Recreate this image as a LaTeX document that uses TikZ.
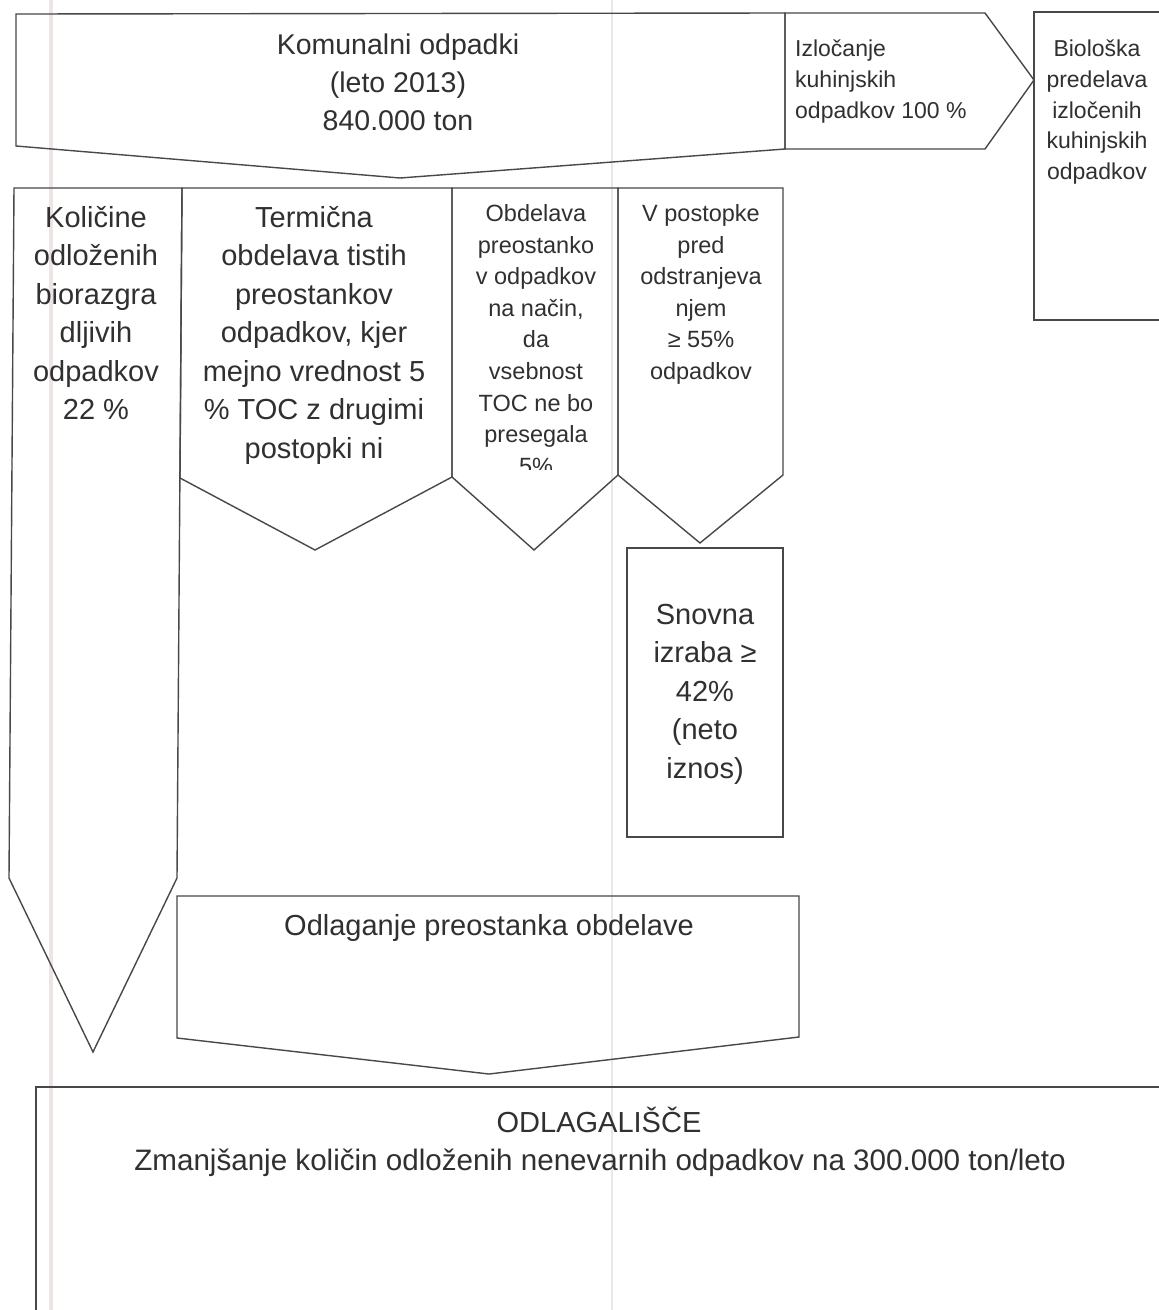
\documentclass[tikz,border=0pt]{standalone}
\usepackage{fontspec}
\setmainfont{Liberation Sans}
\definecolor{ln}{HTML}{484848}
\definecolor{tx}{HTML}{303030}
\definecolor{scanA}{RGB}{238,228,228}
\definecolor{scanB}{RGB}{232,232,236}
\begin{document}
\begin{tikzpicture}[x=1pt,y=-1pt,
  shp/.style={draw=ln,line width=1.4pt,line join=miter},
  bigtxt/.style={text=tx,font=\fontsize{29}{38.5}\selectfont,align=center,inner sep=0pt},
  midtxt/.style={text=tx,font=\fontsize{23.5}{31.6}\selectfont,align=center,inner sep=0pt},
  smltxt/.style={text=tx,font=\fontsize{23}{30.8}\selectfont,inner sep=0pt}]
\useasboundingbox (0,0) rectangle (1159,1310);
\fill[white] (0,0) rectangle (1159,1310);
% faint scan artefacts
\draw[scanA,line width=4pt] (51,0) -- (51,1310);
\draw[scanB,line width=1.5pt] (612,0) -- (612,1310);

% top: municipal waste
\draw[shp] (16,14) -- (785,13) -- (785,149) -- (400,178) -- (16,146) -- cycle;
\node[bigtxt,anchor=north,font=\fontsize{28.5}{38}\selectfont] (kom) at (398,33.4)
  {Komunalni odpadki\\(leto 2013)\\840.000 ton};

% separation of kitchen waste
\draw[shp] (785,13) -- (985,13) -- (1034,80) -- (985,149) -- (785,149) -- cycle;
\node[smltxt,anchor=north west,align=left] (izl) at (795,39.5)
  {Izločanje\\kuhinjskih\\odpadkov 100 \%};

% biological treatment
\draw[shp] (1170,12) -- (1034,12) -- (1034,320) -- (1170,320);
\node[smltxt,anchor=north,align=center] (bio) at (1097,39.5)
  {Biološka\\predelava\\izločenih\\kuhinjskih\\odpadkov};

% column 1
\draw[shp] (14,188) -- (182,188) -- (177,878) -- (93,1052) -- (9,878) -- cycle;
\node[bigtxt,anchor=north] (kol) at (96,206)
  {Količine\\odloženih\\biorazgra\\dljivih\\odpadkov\\22 \%};

% column 2
\draw[shp] (182,188) -- (452,188) -- (452,477) -- (315,550) -- (180,478) -- cycle;
\node[bigtxt,anchor=north] (ter) at (314,206)
  {Termična\\obdelava tistih\\preostankov\\odpadkov, kjer\\mejno vrednost 5\\\% TOC z drugimi\\postopki ni};

% column 3
\draw[shp] (452,188) -- (618,188) -- (618,475) -- (534,550) -- (452,477) -- cycle;
\begin{scope}
  \clip (452,188) rectangle (618,469);
  \node[midtxt,anchor=north] (obd) at (536,204.2)
    {Obdelava\\preostanko\\v odpadkov\\na način,\\da\\vsebnost\\TOC ne bo\\presegala\\5\%};
\end{scope}

% column 4
\draw[shp] (618,188) -- (783,188) -- (783,475) -- (700,543) -- (618,475) -- cycle;
\node[midtxt,anchor=north] (vpo) at (701,204.2)
  {V postopke\\pred\\odstranjeva\\njem\\≥ 55\%\\odpadkov};

% material recovery
\draw[shp] (627,548) rectangle (783,837);
\node[bigtxt,anchor=center] (sno) at (705,694)
  {Snovna\\izraba ≥\\42\%\\(neto\\iznos)};

% disposal of residue
\draw[shp] (177,896) -- (799,896) -- (799,1037) -- (489,1074) -- (177,1038) -- cycle;
\node[bigtxt,anchor=base] (odl) at (489,935.4) {Odlaganje preostanka obdelave};

% landfill
\draw[shp] (1170,1087) -- (36,1087) -- (36,1320);
\node[bigtxt,anchor=base] (lf1) at (599,1132.4) {ODLAGALIŠČE};
\node[bigtxt,anchor=base,font=\fontsize{29.6}{38.5}\selectfont] (lf2) at (600,1170.4)
  {Zmanjšanje količin odloženih nenevarnih odpadkov na 300.000 ton/leto};
\end{tikzpicture}
\end{document}
